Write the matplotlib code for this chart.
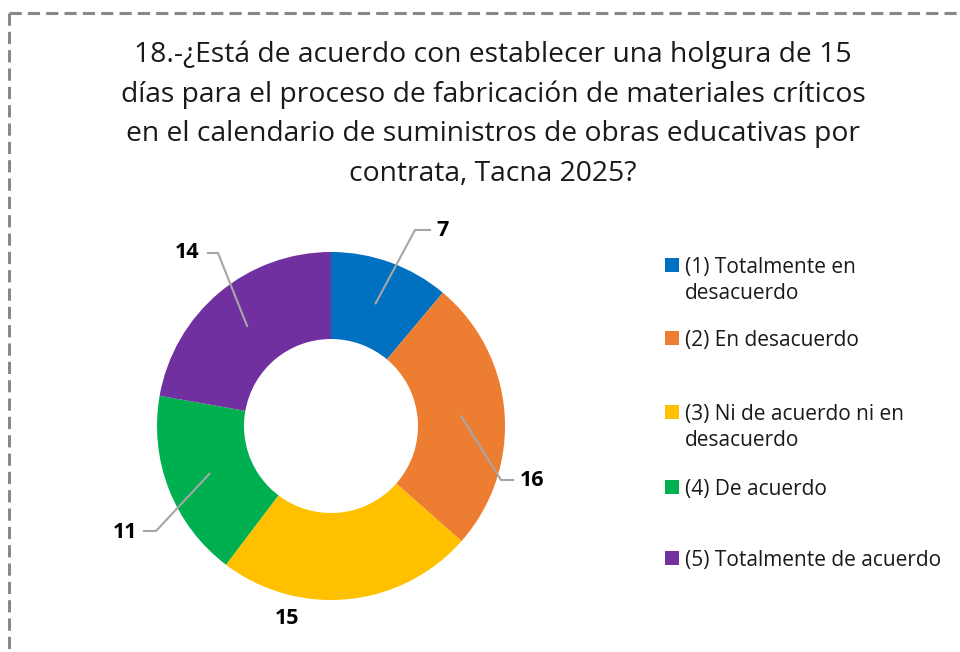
import matplotlib.pyplot as plt
import numpy as np

# data
categories = ["(1) Totalmente en\ndesacuerdo", "(2) En desacuerdo",
              "(3) Ni de acuerdo ni en\ndesacuerdo", "(4) De acuerdo",
              "(5) Totalmente de acuerdo"]
values = [7, 16, 15, 11, 14]
colors = ["#0070C0", "#ED7D31", "#FFC000", "#00B050", "#7030A0"]
title = ("18.-¿Está de acuerdo con establecer una holgura de 15\n"
         "días para el proceso de fabricación de materiales críticos\n"
         "en el calendario de suministros de obras educativas por\n"
         "contrata, Tacna 2025?")

W, H = 960, 652
plt.rcParams['font.family'] = ['Open Sans', 'DejaVu Sans']
fig = plt.figure(figsize=(W / 100, H / 100), dpi=100)
ax = fig.add_axes([0, 0, 1, 1])

# dashed border (top and left visible)
ax.plot([9, W], [H - 13, H - 13], color='#888888', lw=2.2, ls=(0, (4, 2)))
ax.plot([9, 9], [H - 13, 0], color='#888888', lw=2.2, ls=(0, (4, 2)))

# title
ax.text(493, H - 114, title, ha='center', va='center', fontsize=20.3,
        linespacing=1.55, color='#1a1a1a')

# donut
cx, cy, R = 331, H - 426, 174
wedges, _ = ax.pie(values, colors=colors, startangle=90, counterclock=False,
                   radius=R, center=(cx, cy), wedgeprops=dict(width=R * 0.5, edgecolor='none'),
                   frame=True)
ax.set_xlim(0, W)
ax.set_ylim(0, H)
ax.set_aspect('equal')
ax.axis('off')

# label placement: elbow x, elbow y, line end x, text x, text y (pixels from top)
label_pos = [
    (415, 230, 430, 436, 230, 'left'),
    (501, 480, 513, 520, 480, 'left'),
    (None, None, None, 287, 618, 'center'),
    (156, 531, 144, 137, 532, 'right'),
    (218, 253, 208, 199, 253, 'right'),
]
total = sum(values)
cum = 0
for v, (ex, ey, lx, tx, ty, ha) in zip(values, label_pos):
    mid = np.deg2rad(90 - 360 * (cum + v / 2) / total)
    cum += v
    px = cx + R * 0.75 * np.cos(mid)
    py = cy + R * 0.75 * np.sin(mid)
    if ex is not None:
        ax.plot([px, ex, lx], [py, H - ey, H - ey], color='#A6A6A6', lw=1.5)
    ax.text(tx, H - ty, str(v), ha=ha, va='center', fontsize=15.5,
            fontweight='bold', color='black')

# legend
leg_y = [265, 338, 412, 487, 558]
for lab, c, y in zip(categories, colors, leg_y):
    ax.add_patch(plt.Rectangle((665, H - y - 7), 14, 14, color=c, lw=0))
    ax.text(685, H - y + 8, lab, ha='left', va='top', fontsize=15,
            linespacing=1.3, color='#1a1a1a')

fig.savefig('out.png', dpi=100)
